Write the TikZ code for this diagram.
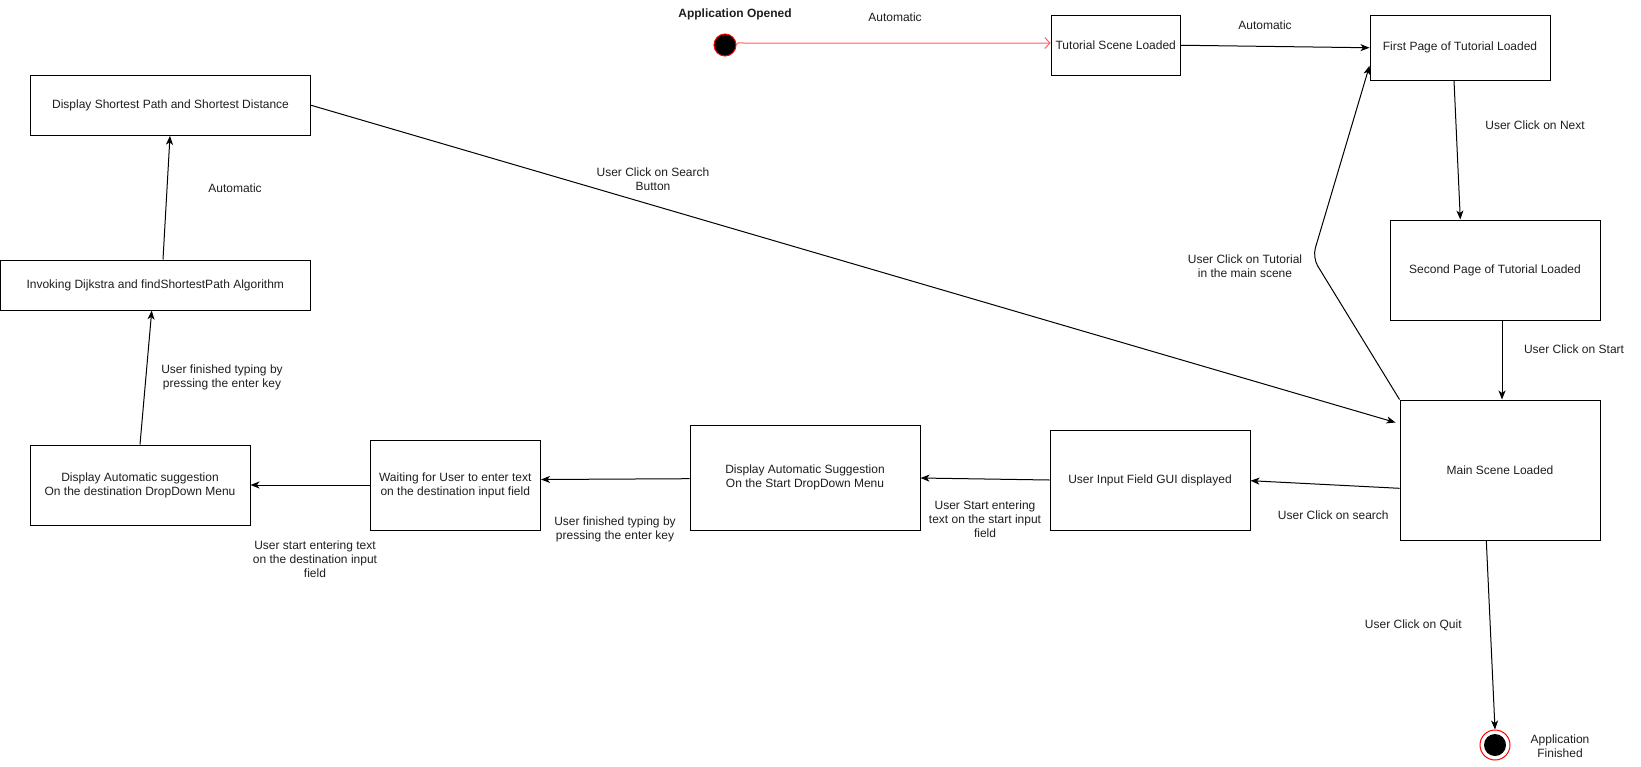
\documentclass[tikz,border=0pt]{standalone}
\usepackage{fontspec}
\setmainfont{Liberation Sans}
\usetikzlibrary{arrows.meta,calc}
\definecolor{ringred}{RGB}{255,0,0}
\definecolor{flowred}{RGB}{255,95,95}
\definecolor{ink}{RGB}{30,30,30}
\begin{document}
\begin{tikzpicture}[x=1pt,y=-1pt,
  every node/.style={font=\fontsize{12}{14}\selectfont, text=ink},
  state/.style={draw, line width=1pt, inner sep=0pt, align=center},
  lbl/.style={inner sep=0pt, align=center},
  arr/.style={draw, line width=1pt, -{Stealth[length=9pt,width=7pt,inset=2.5pt]}},
  redarr/.style={draw=flowred, line width=1pt, -{Straight Barb[length=5pt,width=11pt]}},
]
\useasboundingbox (0,0) rectangle (1641,766);

% pseudo states
\node[circle, draw=ringred, fill=black, line width=1pt, minimum size=22pt, inner sep=0pt] (start) at (725,45) {};
\node[circle, draw=ringred, fill=white, line width=1pt, minimum size=30pt, inner sep=0pt,
      path picture={\fill[black] (path picture bounding box.center) circle (11pt);}] (final) at (1495,745) {};

% states
\node[state, minimum width=129.5pt, minimum height=59.5pt] (tut) at (1115.75,45.25) {Tutorial Scene Loaded};
\node[state, minimum width=180pt, minimum height=64.5pt] (first) at (1460,47.75) {First Page of Tutorial Loaded};
\node[state, minimum width=210pt, minimum height=100pt] (second) at (1495,270) {Second Page of Tutorial Loaded};
\node[state, minimum width=200pt, minimum height=140pt] (main) at (1500,470) {Main Scene Loaded};
\node[state, minimum width=200pt, minimum height=100pt] (input) at (1150,480) {User Input Field GUI displayed};
\node[state, minimum width=230pt, minimum height=105pt] (dstart) at (805,477.5) {Display Automatic Suggestion\\ On the Start DropDown Menu};
\node[state, minimum width=170.5pt, minimum height=90pt] (waiting) at (455.25,485) {Waiting for User to enter text\\on the destination input field};
\node[state, minimum width=220pt, minimum height=80pt] (ddest) at (140,485) {Display Automatic suggestion\\On the destination DropDown Menu};
\node[state, minimum width=310.5pt, minimum height=50pt] (invoking) at (155.25,285) {Invoking Dijkstra and findShortestPath Algorithm};
\node[state, minimum width=280.4pt, minimum height=60pt] (dshort) at (170.5,105.3) {Display Shortest Path and Shortest Distance};

% transitions
\draw[redarr] (start.east) to[out=90,in=180] ++(7,-2) coordinate (c0) -- (c0 -| tut.west);
\draw[arr] (tut.east) -- (first.west);
\draw[arr] ($(first.south)+(-6,0)$) -- ($(second.north)+(-34.7,0)$);
\draw[arr] ($(second.south)+(7,0)$) -- ($(main.north)+(2,0)$);
\draw[arr] ($(main.south)+(-13.7,0)$) -- (final.north);
\draw[arr, rounded corners=10pt] (main.north west) -- ($(main.north west)+(-87,-142)$) -- ($(first.west)+(0,18)$);
\draw[arr] (dshort.east) -- ($(main.north west)+(-4,23)$);
\draw[arr] ($(main.west)+(0,18.3)$) -- ($(input.east)+(0,0.7)$);
\draw[arr] (input.west) -- ($(dstart.east)+(0,0.5)$);
\draw[arr] ($(dstart.west)+(0,1.2)$) -- ($(waiting.east)+(0,-5.5)$);
\draw[arr] (waiting.west) -- (ddest.east);
\draw[arr] (ddest.north) -- ($(invoking.south)+(-3.5,0)$);
\draw[arr] ($(invoking.north)+(7.75,0)$) -- ($(dshort.south)+(-0.5,0)$);

% labels
\node[lbl, font=\fontsize{12}{14}\selectfont\bfseries] (t-opened) at (735,14) {Application Opened};
\node[lbl] (t-auto1) at (895,17) {Automatic};
\node[lbl] (t-auto2) at (1265,25.7) {Automatic};
\node[lbl] (t-next) at (1535,125.7) {User Click on Next};
\node[lbl] (t-start) at (1574,349.6) {User Click on Start};
\node[lbl] (t-quit) at (1413.3,625.7) {User Click on Quit};
\node[lbl] (t-finished) at (1560,746) {Application\\Finished};
\node[lbl] (t-tutorial) at (1245,266) {User Click on Tutorial\\in the main scene};
\node[lbl] (t-searchbtn) at (653,179) {User Click on Search\\Button};
\node[lbl] (t-search) at (1333.3,515.7) {User Click on search};
\node[lbl] (t-startin) at (985,519) {User Start entering\\text on the start input\\field};
\node[lbl] (t-enter1) at (615,529) {User finished typing by\\pressing the enter key};
\node[lbl] (t-destin) at (315,559) {User start entering text\\on the destination input\\field};
\node[lbl] (t-enter2) at (222,377) {User finished typing by\\pressing the enter key};
\node[lbl] (t-auto3) at (235,188.7) {Automatic};
\end{tikzpicture}
\end{document}
